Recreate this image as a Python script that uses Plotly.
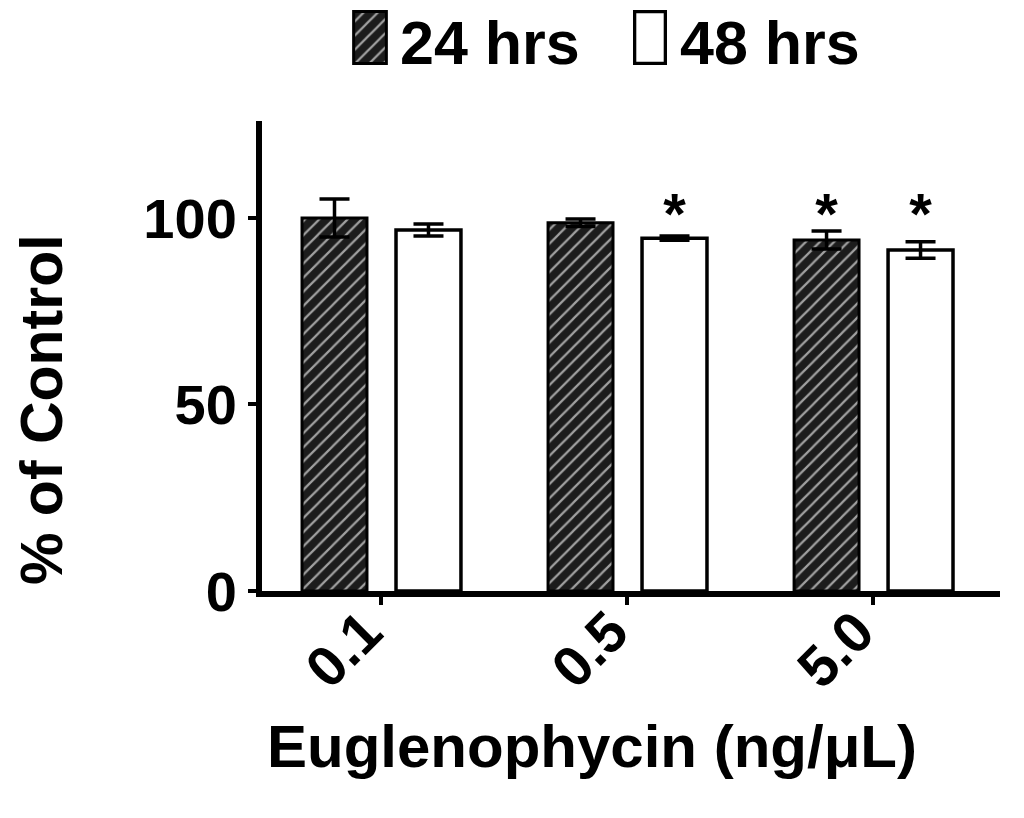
import plotly.graph_objects as go

# ---- data ----
doses = ["0.1", "0.5", "5.0"]
vals_24 = [100.0, 98.7, 94.1]
err_24 = [5.1, 1.0, 2.4]
vals_48 = [96.8, 94.6, 91.4]
err_48 = [1.6, 0.6, 2.2]
sig_24 = [False, False, True]
sig_48 = [False, True, True]
series_names = ["24 hrs", "48 hrs"]
y_ticks = [0, 50, 100]
star_level = 99.5
x_title = "Euglenophycin (ng/μL)"
y_title = "% of Control"

FONT = "Liberation Sans"
x = list(range(len(doses)))
bar_w = 0.264
off24 = -0.321
off48 = 0.061

hatch = dict(color="#1c1c1c", line=dict(color="black", width=3),
             pattern=dict(shape="/", fgcolor="#a0a0a0", bgcolor="#1c1c1c",
                          size=10, solidity=0.22, fillmode="replace"))
white = dict(color="white", line=dict(color="black", width=3.5))

fig = go.Figure()
fig.add_bar(x=x, y=vals_24, width=bar_w, offset=off24, marker=hatch,
            error_y=dict(type="data", array=err_24, color="black", thickness=3.5, width=15),
            showlegend=False)
fig.add_bar(x=x, y=vals_48, width=bar_w, offset=off48, marker=white,
            error_y=dict(type="data", array=err_48, color="black", thickness=3.5, width=15),
            showlegend=False)

# significance stars
sx, sy = [], []
for i in x:
    if sig_24[i]:
        sx.append(i + off24 + bar_w / 2); sy.append(star_level)
    if sig_48[i]:
        sx.append(i + off48 + bar_w / 2); sy.append(star_level)
fig.add_scatter(x=sx, y=sy, mode="text", text=["*"] * len(sx),
                textfont=dict(family=FONT, size=58, color="black", weight="bold"),
                textposition="middle center", showlegend=False, hoverinfo="skip")

# legend keys drawn on small dedicated axes
fig.add_bar(x=[0.5], y=[1], width=1, marker=hatch, xaxis="x2", yaxis="y2", showlegend=False)
fig.add_bar(x=[0.5], y=[1], width=1, marker=white, xaxis="x3", yaxis="y3", showlegend=False)

W, H = 1024, 818
OFF = 8  # page body margin
ml, mr, mt, mb = 254, 32, 0, 235
pw, ph = W - ml - mr, H - mt - mb
def px_x(p): return (p - OFF - ml) / pw
def px_y(p): return (H - mb - (p - OFF)) / ph

main_top = px_y(121)
leg_y = [px_y(65), px_y(10)]

annots = [
    dict(text=series_names[0], xref="paper", yref="paper", x=px_x(398), y=px_y(43),
         xanchor="left", yanchor="middle", showarrow=False,
         font=dict(family=FONT, size=61, weight="bold")),
    dict(text=series_names[1], xref="paper", yref="paper", x=px_x(678), y=px_y(43),
         xanchor="left", yanchor="middle", showarrow=False,
         font=dict(family=FONT, size=61, weight="bold")),
    dict(text=x_title, xref="paper", yref="paper", x=px_x(592), y=px_y(746),
         xanchor="center", yanchor="middle", showarrow=False,
         font=dict(family=FONT, size=60, weight="bold")),
    dict(text=y_title, xref="paper", yref="paper", x=px_x(42), y=px_y(410),
         xanchor="center", yanchor="middle", showarrow=False, textangle=-90,
         font=dict(family=FONT, size=59, weight="bold")),
]
for i, d in enumerate(doses):
    annots.append(dict(text=d, xref="x", yref="paper", x=i, y=px_y(596),
                       xanchor="right", yanchor="top", xshift=16, showarrow=False,
                       textangle=-45, font=dict(family=FONT, size=57, weight="bold")))

fig.update_layout(
    width=W, height=H, margin=dict(l=ml, r=mr, t=mt, b=mb, autoexpand=False),
    plot_bgcolor="white", paper_bgcolor="white",
    font=dict(family=FONT, color="black", weight="bold"),
    barmode="overlay",
    xaxis=dict(range=[-0.4837, 2.516], tickvals=x, showticklabels=False,
               showline=True, linewidth=6, linecolor="black", ticks="outside",
               ticklen=8, tickwidth=4, tickcolor="black", showgrid=False, zeroline=False,
               automargin=False),
    yaxis=dict(range=[0, 126.0], domain=[0, main_top], tickvals=y_ticks,
               showline=True, linewidth=6, linecolor="black", ticks="outside",
               ticklen=8, tickwidth=4, tickcolor="black", showgrid=False, zeroline=False,
               automargin=False,
               tickfont=dict(family=FONT, size=56, weight="bold")),
    xaxis2=dict(domain=[px_x(352), px_x(388)], range=[-0.05, 1.05], visible=False, anchor="y2"),
    yaxis2=dict(domain=leg_y, range=[-0.03, 1.03], visible=False, anchor="x2"),
    xaxis3=dict(domain=[px_x(633), px_x(667)], range=[-0.05, 1.05], visible=False, anchor="y3"),
    yaxis3=dict(domain=leg_y, range=[-0.03, 1.03], visible=False, anchor="x3"),
    annotations=annots,
)

fig.write_html("out.html")
